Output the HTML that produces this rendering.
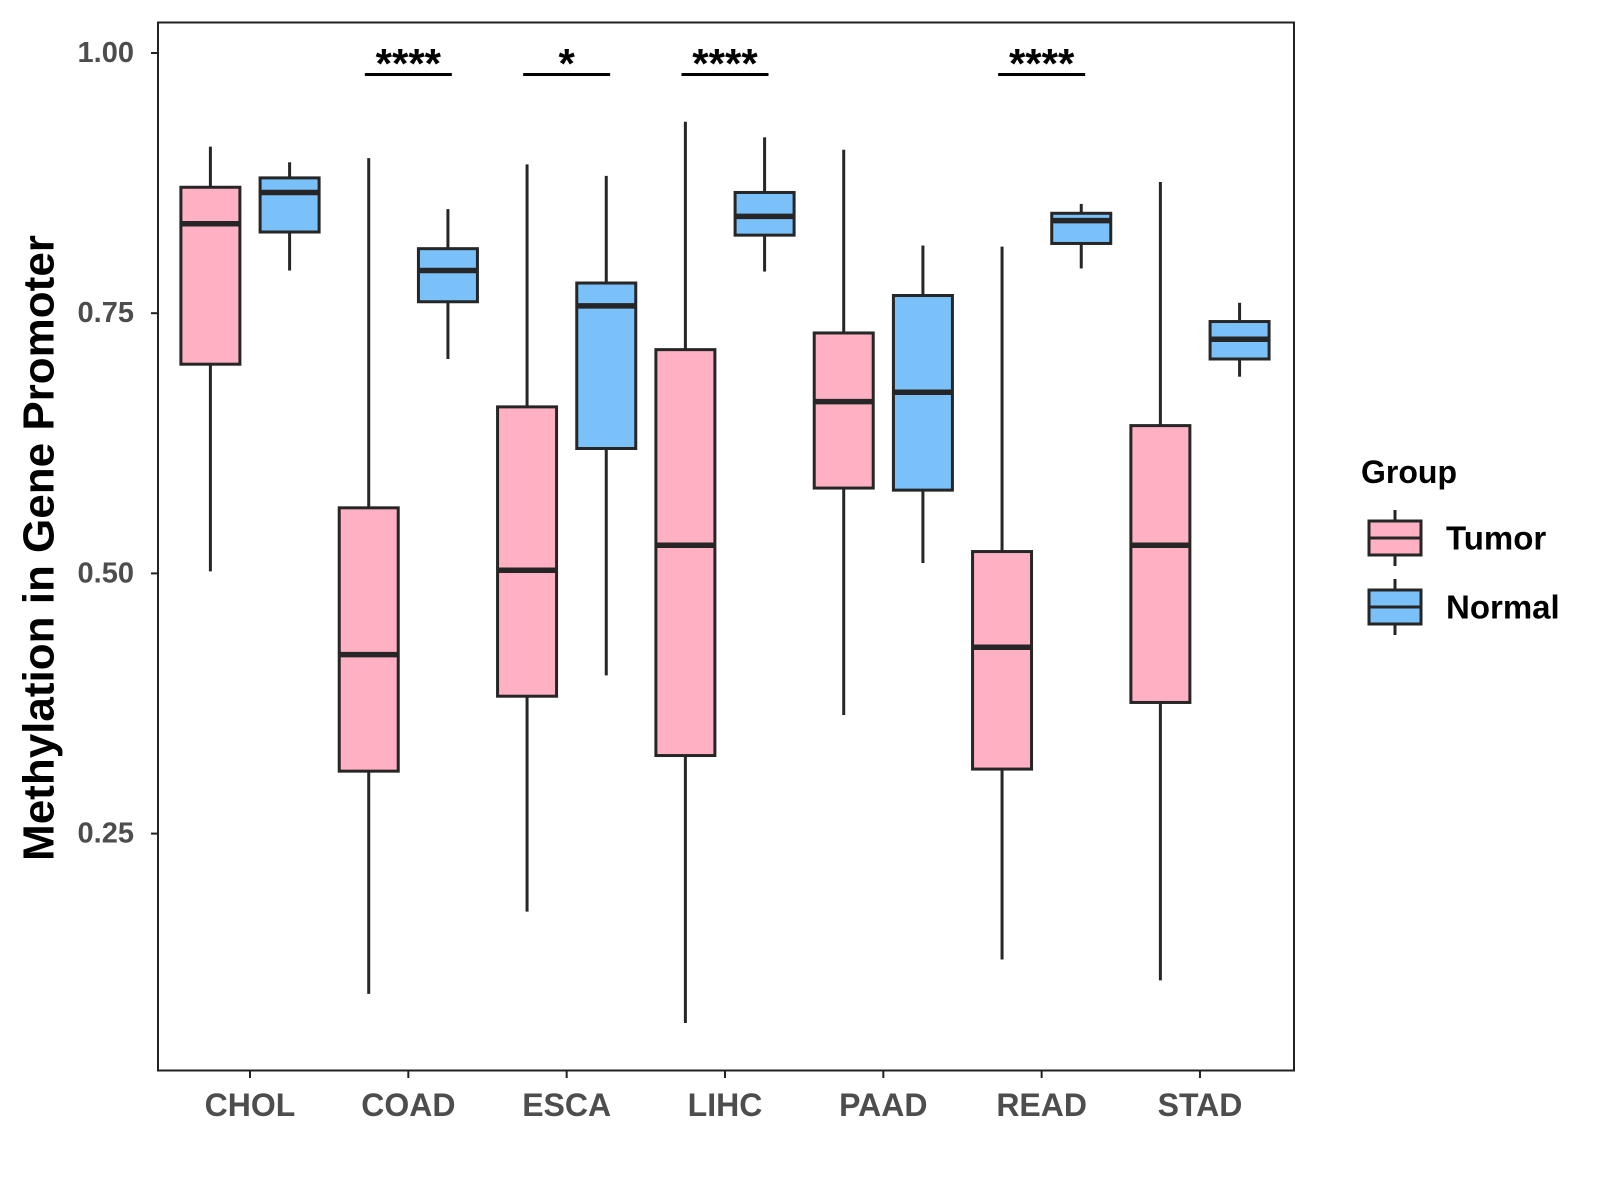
<!DOCTYPE html>
<html><head><meta charset="utf-8"><style>
body{margin:0;background:#fff}
svg{display:block;font-family:"Liberation Sans",Arial,sans-serif;font-weight:bold}
</style></head><body>
<svg id="chart" width="1600" height="1200" viewBox="0 0 1600 1200">
<rect x="158" y="22.5" width="1136" height="1048" fill="#fff" stroke="#222" stroke-width="2"/>
<g id="marks"></g>
<text x="39" y="548" transform="rotate(-90 39 548)" text-anchor="middle" dominant-baseline="central" font-size="44" fill="#000">Methylation in Gene Promoter</text>
<text x="1361" y="483" font-size="32" fill="#000">Group</text>
</svg>
<script>
const categories=["CHOL","COAD","ESCA","LIHC","PAAD","READ","STAD"];
const tumorMin=[0.502,0.096,0.175,0.068,0.364,0.129,0.109];
const tumorQ1=[0.701,0.310,0.382,0.325,0.582,0.312,0.376];
const tumorMed=[0.836,0.422,0.503,0.527,0.665,0.429,0.527];
const tumorQ3=[0.871,0.563,0.660,0.715,0.731,0.521,0.642];
const tumorMax=[0.910,0.899,0.893,0.934,0.907,0.814,0.876];
const normalMin=[0.791,0.706,0.402,0.790,0.510,0.793,0.689];
const normalQ1=[0.828,0.761,0.620,0.825,0.580,0.817,0.706];
const normalMed=[0.866,0.791,0.757,0.843,0.674,0.839,0.725];
const normalQ3=[0.880,0.812,0.779,0.866,0.767,0.846,0.742];
const normalMax=[0.895,0.850,0.882,0.919,0.815,0.855,0.760];
const sigLabels=["","****","*","****","","****",""];
const yTicks=[0.25,0.5,0.75,1.0];
const yTickLabels=["0.25","0.50","0.75","1.00"];

const NS="http://www.w3.org/2000/svg";
const g=document.getElementById("marks");
const y=v=>53+(1-v)*1040.8;
const x=i=>250+i*158.33;
function el(t,a,p){const e=document.createElementNS(NS,t);for(const k in a)e.setAttribute(k,a[k]);(p||g).appendChild(e);return e;}

yTicks.forEach((v,i)=>{
  const t=el("line",{x1:151,x2:158,y1:y(v),y2:y(v),stroke:"#222","stroke-width":2});
  
  
  const l=el("text",{x:134,y:y(v),"text-anchor":"end","dominant-baseline":"central","font-size":29,fill:"#4d4d4d"});
  l.textContent=yTickLabels[i];
  
  
});
categories.forEach((c,i)=>{
  const t=el("line",{x1:x(i),x2:x(i),y1:1071,y2:1078,stroke:"#222","stroke-width":2});
  
  
  const l=el("text",{x:x(i),y:1105,"text-anchor":"middle","dominant-baseline":"central","font-size":32,fill:"#4d4d4d"});
  l.textContent=c;
  
  
});
function box(cx,mn,q1,md,q3,mx,fill,name){
  const w=59;
  const a=el("line",{x1:cx,x2:cx,y1:y(mx),y2:y(q3),stroke:"#262626","stroke-width":3});
  
  
  const b=el("line",{x1:cx,x2:cx,y1:y(q1),y2:y(mn),stroke:"#262626","stroke-width":3});
  
  
  const r=el("rect",{x:cx-w/2,y:y(q3),width:w,height:y(q1)-y(q3),fill:fill,stroke:"#262626","stroke-width":3});
  
  
  const m=el("line",{x1:cx-w/2,x2:cx+w/2,y1:y(md),y2:y(md),stroke:"#262626","stroke-width":5.5});
  
  
}
categories.forEach((c,i)=>{
  box(x(i)-39.6,tumorMin[i],tumorQ1[i],tumorMed[i],tumorQ3[i],tumorMax[i],"#FFB0C2",c.toLowerCase()+"-tumor");
  box(x(i)+39.6,normalMin[i],normalQ1[i],normalMed[i],normalQ3[i],normalMax[i],"#79C1F8",c.toLowerCase()+"-normal");
  if(sigLabels[i]){
    const s=el("line",{x1:x(i)-43.5,x2:x(i)+43.5,y1:74.5,y2:74.5,stroke:"#000","stroke-width":3});
    
    
    const t=el("text",{x:x(i),y:78,"text-anchor":"middle","font-size":42,fill:"#000"});
    t.textContent=sigLabels[i];
    
    
  }
});
[["Tumor","#FFB0C2",538],["Normal","#79C1F8",607]].forEach(([lab,col,cy])=>{
  const kg=el("g",{});
  
  
  el("line",{x1:1395,x2:1395,y1:cy-28,y2:cy+28,stroke:"#262626","stroke-width":3},kg);
  el("rect",{x:1369,y:cy-17,width:52,height:34,fill:col,stroke:"#262626","stroke-width":3},kg);
  el("line",{x1:1369,x2:1421,y1:cy,y2:cy,stroke:"#262626","stroke-width":3},kg);
  const t=el("text",{x:1446,y:cy,"dominant-baseline":"central","font-size":33,fill:"#000"},kg);
  t.textContent=lab;
});
</script>
</body></html>
